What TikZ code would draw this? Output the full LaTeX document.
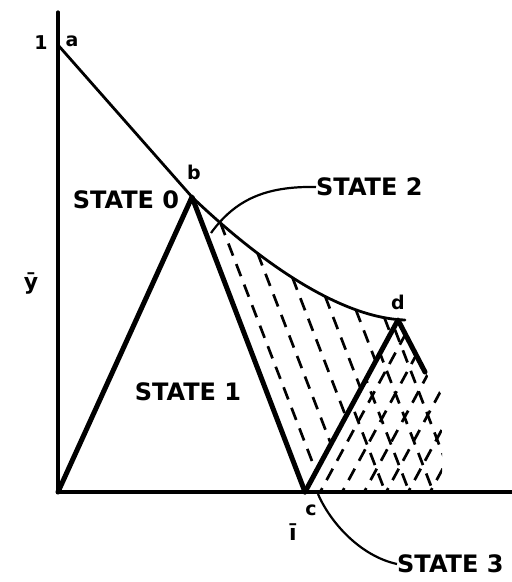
\documentclass[tikz,border=0pt]{standalone}
\usepackage{fontspec}
\newfontfamily\labfont{DejaVu Sans}
\usetikzlibrary{intersections}
\begin{document}
\begin{tikzpicture}[x=1pt,y=-1pt,
  thinline/.style={line width=2.8pt,line cap=round,line join=round},
  thickline/.style={line width=5pt,line cap=round,line join=round},
  hatchline/.style={line width=2.7pt,dash pattern=on 13pt off 9pt},
  statelab/.style={font=\labfont\bfseries\fontsize{24}{24}\selectfont,inner sep=0pt},
  ptlab/.style={font=\labfont\bfseries\fontsize{19}{19}\selectfont,inner sep=0pt}]
\useasboundingbox (0,0) rectangle (512,582);
% key points
\coordinate (ytop) at (58,12);
\coordinate (O) at (58,492);
\coordinate (xend) at (512,492);
\coordinate (a) at (58,45);
\coordinate (b) at (192,197);
\coordinate (c) at (305,492);
\coordinate (d) at (398,320);
\coordinate (dend) at (405,320);
\coordinate (e) at (425,372);
% hatching of state 2 region
\path[name path=curve] (b) .. controls (260,262) and (340,318) .. (dend);
\path[name path=cd] (c) -- (d);
\foreach \k in {1,...,6}{
  \pgfmathsetmacro{\px}{185+25.5*\k}
  \path[name path=hl] ({\px-0.3*113},{197-0.3*294}) -- ({\px+1.5*113},{197+1.5*294});
  \path[name intersections={of=curve and hl,by={s\k}}];
  \path[name intersections={of=cd and hl,by={t\k}}];
  \draw[hatchline] (s\k) -- (t\k);
}
% cross hatching of state 3 region
\begin{scope}
  \clip (c) -- (d) -- (e) -- (442,395) -- (442,490) -- cycle;
  \foreach \k in {0,...,7}{
    \draw[hatchline,dash phase=4pt] ({318+22*\k},496) -- ++({-0.9*93},{0.9*172}) -- ++({1.9*93},{-1.9*172});
  }
  \foreach \k in {0,...,8}{
    \draw[hatchline,dash phase=2pt] ({300+24*\k},270) -- ++(113,294);
  }
\end{scope}
% axes
\draw[line width=3.2pt,line cap=round] (ytop) -- (O) -- (xend);
% boundary lines
\draw[thinline] (a) -- (b);
\draw[thinline] (b) .. controls (260,262) and (340,318) .. (dend);
\draw[thickline] (O) -- (b) -- (c);
\draw[thickline] (c) -- (d) -- (e);
% labels
\node[ptlab] (la) at (72,41) {a};
\node[ptlab] (l1) at (41,43) {1};
\node[ptlab] (lb) at (194,172) {b};
\node[ptlab] (lc) at (311,510) {c};
\node[ptlab] (ld) at (398,302) {d};
\node[ptlab,font=\labfont\bfseries\fontsize{22}{22}\selectfont] (ly) at (31,283) {ȳ};
\node[ptlab,font=\labfont\bfseries\fontsize{22}{22}\selectfont] (li) at (293,532) {ī};
\node[statelab] (s0) at (126,200) {STATE 0};
\node[statelab] (s1) at (188,392) {STATE 1};
\node[statelab,anchor=west] (s2) at (316,187) {STATE 2};
\node[statelab,anchor=west] (s3) at (397,564) {STATE 3};
% callouts
\coordinate (c2) at (211,233);
\coordinate (c3) at (318,494);
\draw[line width=2.2pt] (c2) .. controls (235,200) and (265,186) .. (s2.west);
\draw[line width=2.2pt] (c3) .. controls (330,522) and (360,556) .. (s3.west);
\end{tikzpicture}
\end{document}
